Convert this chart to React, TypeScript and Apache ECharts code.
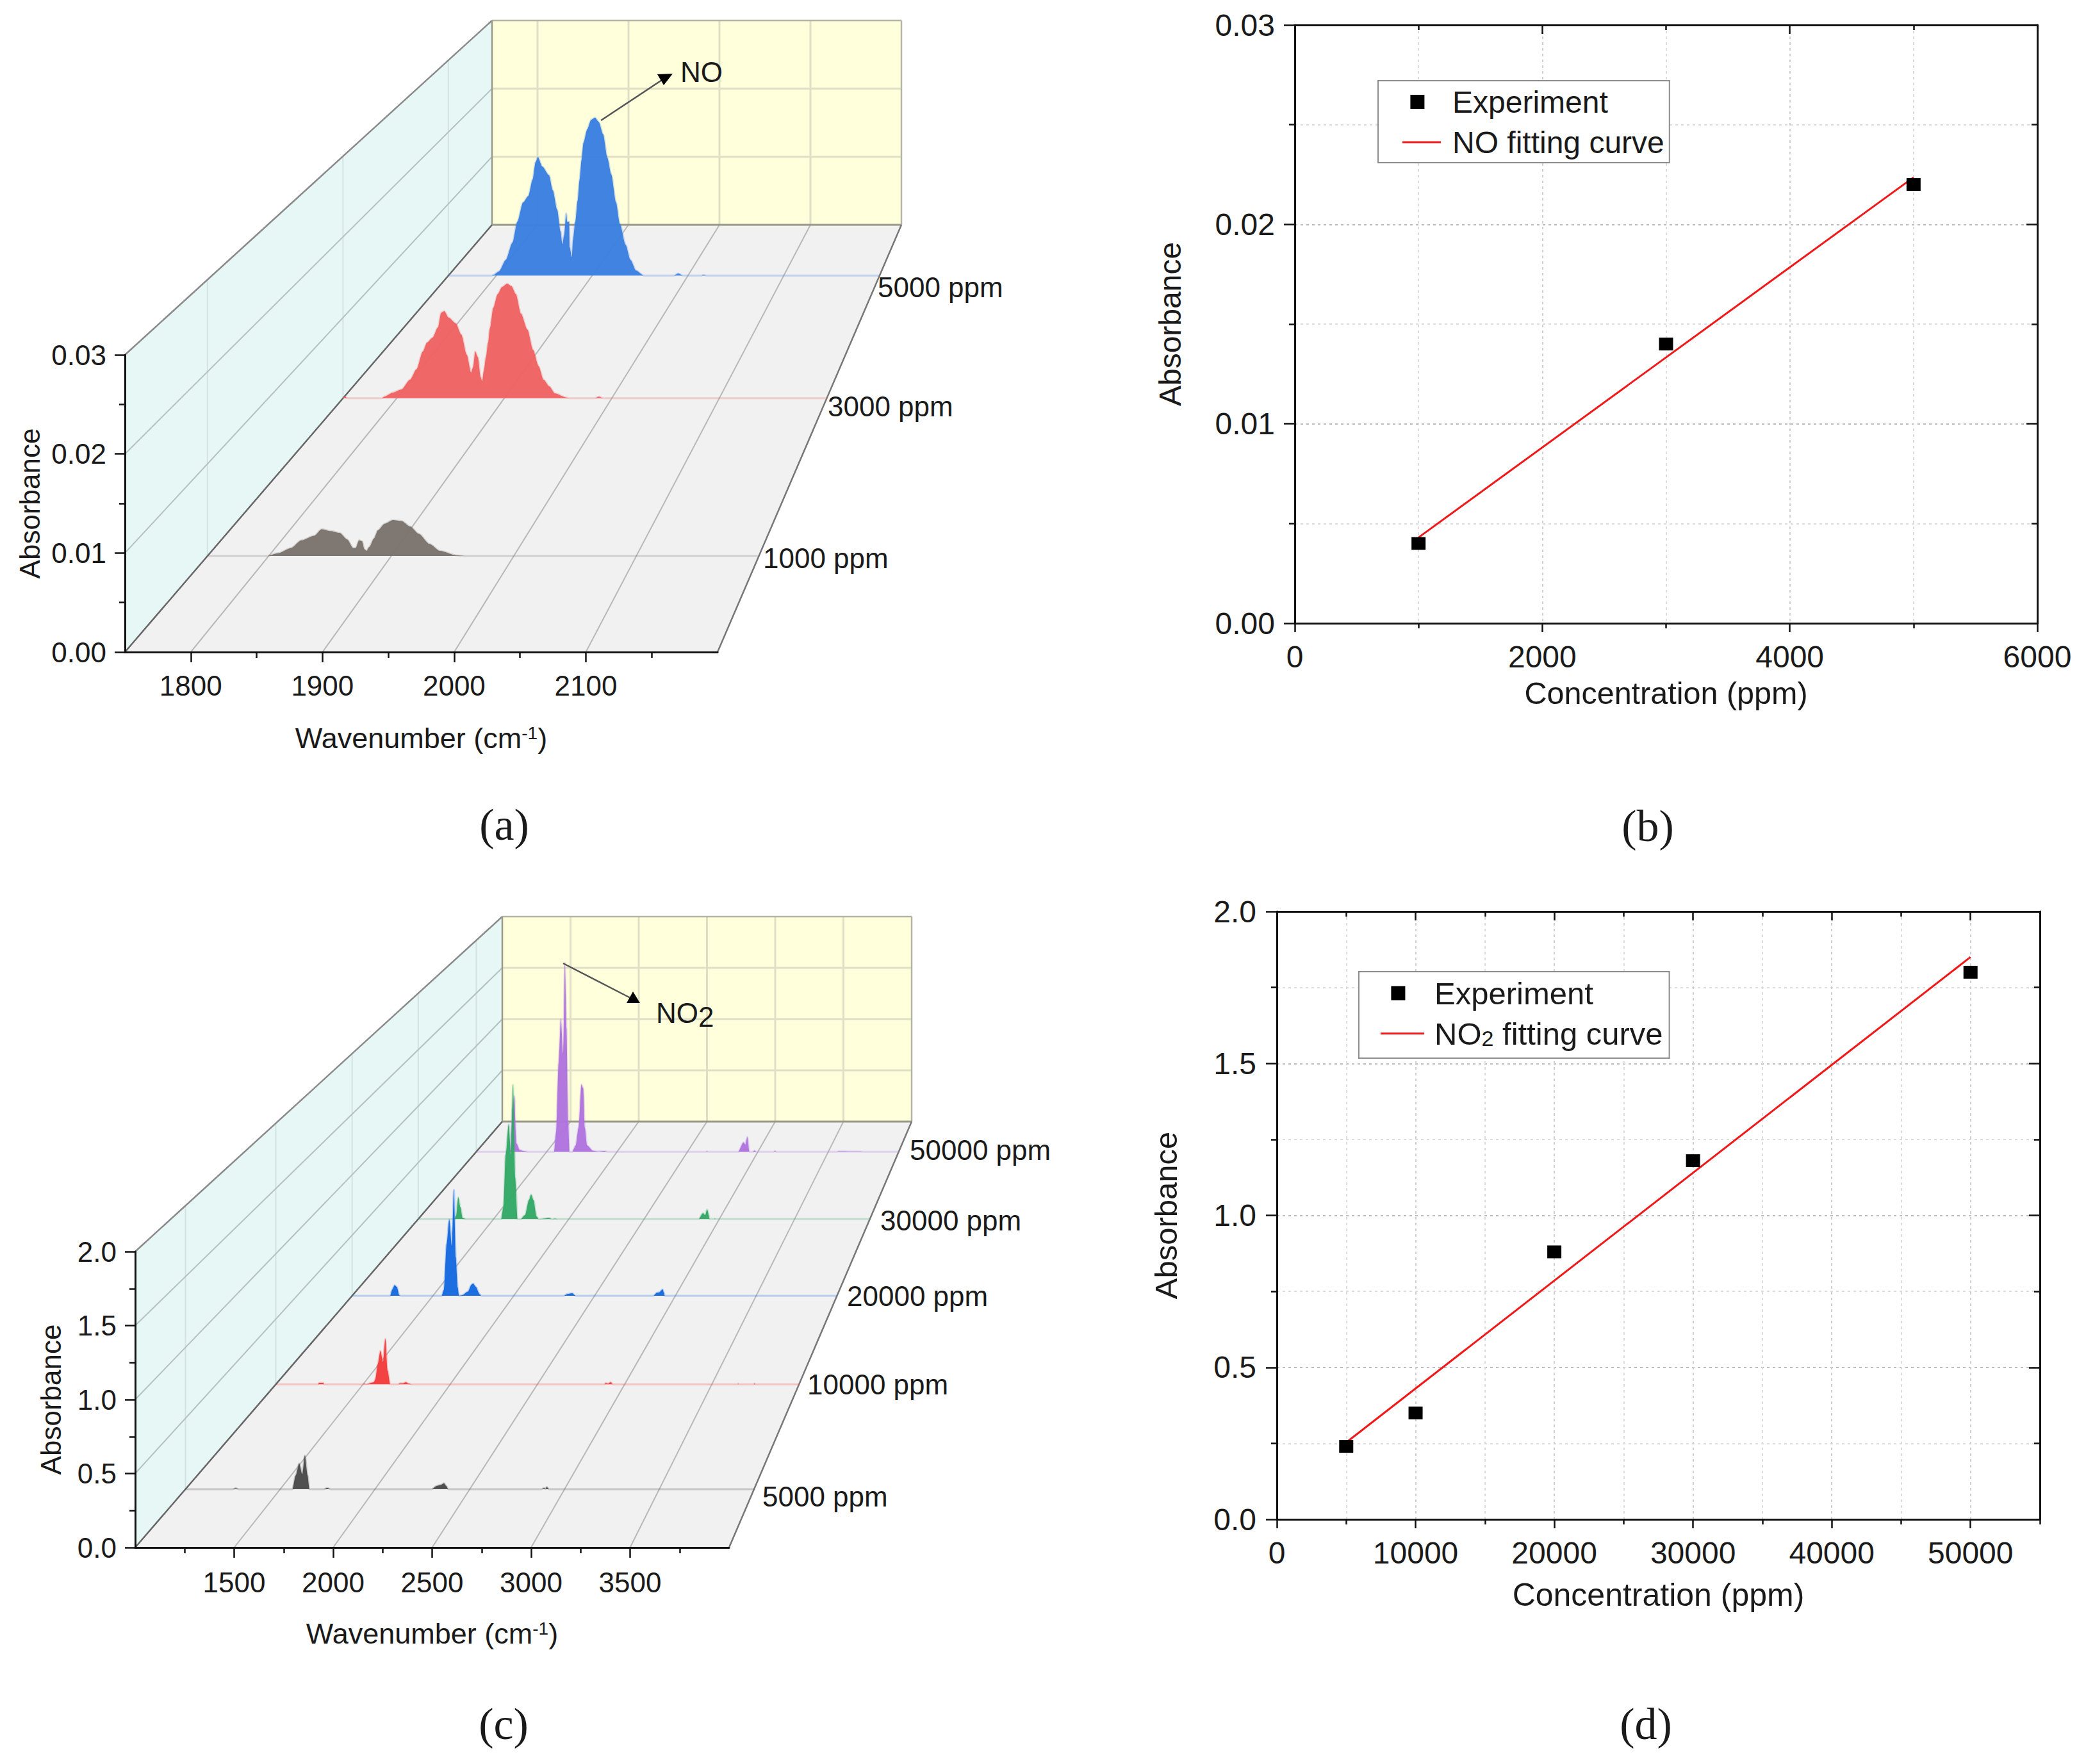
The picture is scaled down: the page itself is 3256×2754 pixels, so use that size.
import React, { useEffect, useRef } from "react";
import * as echarts from "echarts";

// ---------- data ----------
const NO_1000: number[][] = [[1750,0],[1798.4,0],[1807.5,0.0003],[1818.2,0.00086],[1826.7,0.0017],[1837.2,0.0022],[1843.2,0.0029],[1850.9,0.0027],[1857.9,0.0025],[1864,0.0018],[1869,0.00086],[1871,0.00086],[1873.7,0.0017],[1876.1,0.0016],[1878.1,0.00074],[1879.8,0.00056],[1882.1,0.00097],[1885.9,0.0019],[1889.2,0.0028],[1894.6,0.0035],[1901.3,0.0039],[1908.4,0.0038],[1915.4,0.0032],[1922.5,0.0024],[1931.2,0.0013],[1939.6,0.00056],[1953.8,0.00005],[1960,0],[2200,0]];
const NO_3000: number[][] = [[1750,0],[1752,0.0002],[1754,0],[1786,0],[1788.5,0.0002],[1796.3,0.0007],[1804.5,0.0011],[1812.4,0.0023],[1818.4,0.0036],[1824.3,0.0058],[1828.1,0.0069],[1833.3,0.0075],[1838.4,0.0088],[1841.3,0.0106],[1844.2,0.0108],[1848.2,0.01],[1854.8,0.0093],[1860,0.0079],[1865.1,0.0054],[1869.2,0.0032],[1871.1,0.0039],[1873,0.0058],[1875.4,0.0051],[1878.1,0.0026],[1879.5,0.0021],[1881,0.0034],[1883,0.0051],[1885,0.0069],[1886.7,0.0087],[1889.8,0.0112],[1893.9,0.0129],[1898,0.0138],[1902.8,0.0142],[1906.7,0.0139],[1910.8,0.0129],[1915.5,0.0105],[1921.6,0.0085],[1926.8,0.006],[1931.9,0.004],[1936.6,0.0023],[1941.7,0.0015],[1947.3,0.0006],[1957.6,0.0001],[1960.7,0],[1984,0],[1988,0.0002],[1992,0],[2200,0]];
const NO_5000: number[][] = [[1750,0],[1795,0],[1797,0.0001],[1803,0.0006],[1810,0.0022],[1817,0.0046],[1822,0.0075],[1828,0.0102],[1833.5,0.0111],[1838,0.0134],[1841,0.0158],[1843.5,0.0165],[1848,0.0152],[1855,0.014],[1859,0.0119],[1863.6,0.0092],[1867,0.0062],[1869,0.0044],[1871,0.0057],[1873,0.0087],[1874,0.0075],[1876,0.0075],[1876.5,0.0040],[1879,0.0026],[1880,0.0049],[1882.5,0.0075],[1885,0.0105],[1887,0.0134],[1889,0.0161],[1891,0.0185],[1895,0.0204],[1899,0.0217],[1903,0.022],[1907,0.0214],[1911.5,0.0197],[1916,0.0164],[1920,0.0141],[1925,0.0102],[1929,0.0072],[1935,0.0043],[1940,0.0022],[1946,0.0007],[1954,0],[1985,0],[1990,0.0003],[1995,0],[2014,0],[2016,0.0001],[2020,0],[2200,0]];

const NO2_5000: number[][] = [[1000,0],[1250,0],[1265,0.006],[1280,0],[1564,0],[1582,0.098],[1600,0.181],[1616,0.105],[1630,0.237],[1644,0.098],[1654,0],[1730,0],[1748,0.008],[1765,0],[2299,0],[2327,0.023],[2348,0.03],[2364,0.041],[2375,0.023],[2386,0],[2879,0],[2892,0.0075],[2900,0.002],[2906,0.015],[2918,0],[4000,0]];
const NO2_10000: number[][] = [[1000,0],[1243,0],[1248,0.011],[1272,0.011],[1277,0],[1500,0],[1508,0.005],[1516,0],[1562,0.016],[1571,0.04],[1585,0.155],[1600,0.257],[1615,0.172],[1628,0.349],[1641,0.106],[1656,0],[1700,0],[1712,0.008],[1730,0.008],[1746,0.016],[1760,0.006],[1778,0],[2883,0],[2892,0.01],[2905,0.005],[2920,0.016],[2933,0],[3648,0],[3651,0.005],[3655,0],[3740,0],[3745,0.006],[3750,0],[4000,0]];
const NO2_20000: number[][] = [[1000,0],[1235,0],[1249,0.053],[1263,0.087],[1277,0.072],[1291,0.005],[1300,0],[1554,0],[1568,0.05],[1585,0.43],[1601,0.63],[1617,0.41],[1630,0.875],[1641,0.32],[1653,0.07],[1661,0],[1681,0.005],[1717,0.034],[1738,0.091],[1749,0.1],[1766,0.072],[1787,0.015],[1800,0],[2308,0],[2333,0.015],[2361,0.021],[2383,0],[2864,0],[2886,0.025],[2900,0.028],[2921,0.053],[2935,0],[4000,0]];
const NO2_30000: number[][] = [[1000,0],[1240,0],[1252,0.03],[1266,0.193],[1280,0.106],[1295,0.008],[1320,0],[1551,0],[1566,0.106],[1581,0.57],[1601,0.84],[1616,0.57],[1630,1.19],[1644,0.37],[1660,0],[1680,0],[1710,0.035],[1735,0.167],[1750,0.217],[1766,0.167],[1786,0.024],[1800,0],[1870,0.008],[1890,0],[1907,0.004],[1925,0],[2862,0],[2892,0.053],[2906,0.034],[2919,0.085],[2937,0],[2965,0],[2970,0.004],[2975,0],[4000,0]];
const NO2_50000: number[][] = [[1000,0],[1235,0],[1244,0.017],[1257,0.41],[1270,0.527],[1285,0.08],[1309,0.017],[1341,0.006],[1370,0],[1552,0],[1568,0.19],[1585,0.84],[1601,1.255],[1617,0.93],[1630,1.787],[1641,1.17],[1653,0.3],[1662,0],[1682,0],[1706,0.06],[1727,0.23],[1747,0.636],[1760,0.6],[1771,0.23],[1787,0.06],[1828,0.011],[1860,0.003],[1909,0.008],[1935,0],[2630,0],[2638,0.004],[2648,0],[2860,0],[2898,0.089],[2911,0.069],[2925,0.14],[2940,0],[2965,0],[2975,0.012],[2990,0],[3110,0],[3120,0.008],[3135,0],[3560,0],[3575,0.004],[3650,0.003],[3720,0.003],[3760,0],[4000,0]];

const NO_CONC = [1000, 3000, 5000];
const NO_ABS = [0.004, 0.014, 0.022];
const NO_FIT_X = [1000, 5000];
const NO_FIT_Y = [0.0043, 0.02236];
const NO2_CONC = [5000, 10000, 20000, 30000, 50000];
const NO2_ABS = [0.24, 0.35, 0.88, 1.18, 1.8];
const NO2_FIT_X = [5000, 50000];
const NO2_FIT_Y = [0.253, 1.85];

const A_X_MAJOR = [1800, 1900, 2000, 2100];
const A_X_MINOR = [1850, 1950, 2050, 2150];
const A_Y_MAJOR = [0, 0.01, 0.02, 0.03];
const A_Y_MINOR = [0.005, 0.015, 0.025];
const C_X_MAJOR = [1500, 2000, 2500, 3000, 3500];
const C_X_MINOR = [1250, 1750, 2250, 2750, 3250, 3750];
const C_Y_MAJOR = [0, 0.5, 1, 1.5, 2];
const C_Y_MINOR = [0.25, 0.75, 1.25, 1.75];
const B_X_MAJOR = [0, 2000, 4000, 6000];
const B_X_MINOR = [1000, 3000, 5000];
const D_X_MAJOR = [0, 10000, 20000, 30000, 40000, 50000];
const D_X_MINOR = [5000, 15000, 25000, 35000, 45000, 55000];

const A_LABELS = ["1000 ppm", "3000 ppm", "5000 ppm"];
const C_LABELS = ["5000 ppm", "10000 ppm", "20000 ppm", "30000 ppm", "50000 ppm"];

// ---------- layout ----------
const SANS = "Liberation Sans";
const SERIF = "Liberation Serif";
const W = 3256;
const H = 2754;
const lerp = (a: number, b: number, t: number) => a + (b - a) * t;

type Box = { l: number; r: number; b: number; top: number };
type Panel = { front: Box; back: Box; xMin: number; xMax: number; yMax: number };
const plane = (p: Panel, t: number): Box => ({
  l: lerp(p.front.l, p.back.l, t),
  r: lerp(p.front.r, p.back.r, t),
  b: lerp(p.front.b, p.back.b, t),
  top: lerp(p.front.top, p.back.top, t),
});

const PANEL_A: Panel = {
  front: { l: 195, r: 1120, b: 1018, top: 554 },
  back: { l: 768, r: 1407, b: 351, top: 32 },
  xMin: 1750, xMax: 2200, yMax: 0.03,
};
const PANEL_C: Panel = {
  front: { l: 211, r: 1138, b: 2416, top: 1954 },
  back: { l: 784, r: 1423, b: 1751, top: 1431 },
  xMin: 1000, xMax: 4000, yMax: 2,
};
const A_DEPTH = [0.2248, 0.594, 0.881];
const C_DEPTH = [0.137, 0.383, 0.591, 0.771, 0.929];
const A_COLORS = ["#7a736d", "#ee6262", "#3a7fe0"];
const C_COLORS = ["#4a4a4a", "#f23c3c", "#1569e0", "#33a866", "#b074de"];
const A_LABEL_POS = [[1191, 871], [1292, 634], [1370, 448]];
const C_LABEL_POS = [[1190, 2336], [1260, 2161], [1322, 2023], [1374, 1905], [1420, 1795]];

const grids: any[] = [];
const xAxes: any[] = [];
const yAxes: any[] = [];
const series: any[] = [];
const gfx: any[] = [];

const seg = (x1: number, y1: number, x2: number, y2: number, stroke: string, lineWidth: number, z = 1) => {
  gfx.push({ type: "line", z, silent: true, shape: { x1, y1, x2, y2 }, style: { stroke, lineWidth } });
};
const poly = (points: number[][], fill: string, z = 1) => {
  gfx.push({ type: "polygon", z, silent: true, shape: { points }, style: { fill } });
};
const label = (x: number, y: number, text: string, size = 44, family = SANS, align = "left", rich?: any) => {
  gfx.push({
    type: "text", x, y, z: 20, silent: true,
    style: { text, fontFamily: family, fontSize: size, fill: "#1a1a1a", align, verticalAlign: "middle", rich },
  });
};

const addAxis = (dim: "x" | "y", gridIndex: number, o: any) => {
  const list = dim === "x" ? xAxes : yAxes;
  list.push({ type: "value", gridIndex, ...o });
  return list.length - 1;
};

const tickAxes = (dim: "x" | "y", gi: number, position: string, min: number, max: number,
  major: number[], minor: number[], o: {
    inside: boolean; labels?: boolean; fmt?: (v: number) => string; margin?: number; len: number;
    name?: string; nameGap?: number; rich?: any; split?: boolean; interval?: number; minorInterval?: number; majorColor?: string;
    labelSize?: number; nameSize?: number;
  }) => {
  const base = { position, min, max, axisLine: { onZero: false, show: true, lineStyle: { color: "#111", width: 3 } }, z: 10 };
  const minorIdx = addAxis(dim, gi, {
    position, min, max, z: 10,
    interval: o.minorInterval,
    axisLine: { show: false, onZero: false },
    axisTick: { show: true, inside: o.inside, length: Math.round(o.len * 0.55), customValues: minor, lineStyle: { color: "#111", width: 2.5 } },
    axisLabel: { show: false },
    splitLine: o.split ? { show: true, lineStyle: { color: "#dcdcdc", width: 2, type: [4, 5] } } : { show: false },
  });
  const majorIdx = addAxis(dim, gi, {
    ...base,
    interval: o.interval,
    axisTick: { show: true, inside: o.inside, length: o.len, customValues: major, lineStyle: { color: "#111", width: 2.5 } },
    axisLabel: {
      show: !!o.labels, customValues: major, margin: o.margin ?? 30, fontFamily: SANS,
      fontSize: o.labelSize ?? 48, color: "#1a1a1a", formatter: o.fmt,
    },
    splitLine: o.split ? { show: true, lineStyle: { color: o.majorColor ?? "#cfcfcf", width: 2, type: [4, 5] } } : { show: false },
    name: o.name, nameLocation: "middle", nameGap: o.nameGap,
    nameTextStyle: { fontFamily: SANS, fontSize: o.nameSize ?? 48, color: "#1a1a1a", rich: o.rich },
  });
  return [minorIdx, majorIdx];
};

const build3D = (p: Panel, depth: number[], colors: string[], spectra: number[][][],
  xMajor: number[], xMinor: number[], yMajor: number[], yMinor: number[],
  yFmt: (v: number) => string, nameGapX: number, nameGapY: number, xMargin: number) => {
  const { front: f, back: k } = p;
  const xAt = (b: Box, v: number) => b.l + ((v - p.xMin) / (p.xMax - p.xMin)) * (b.r - b.l);
  const yAt = (b: Box, v: number) => b.b - (v / p.yMax) * (b.b - b.top);

  poly([[f.l, f.b], [f.l, f.top], [k.l, k.top], [k.l, k.b]], "#e6f7f5");
  poly([[k.l, k.b], [k.l, k.top], [k.r, k.top], [k.r, k.b]], "#ffffdc");
  poly([[f.l, f.b], [k.l, k.b], [k.r, k.b], [f.r, f.b]], "#f1f1f1");

  // walls' grid lines
  depth.forEach((t) => {
    const q = plane(p, t);
    seg(q.l, q.b, q.l, q.top, "#d3e3e1", 2);
  });
  yMajor.forEach((v) => {
    if (v > 0 && v < p.yMax) {
      seg(f.l, yAt(f, v), k.l, yAt(k, v), "#b3c2c0", 2);
      seg(k.l, yAt(k, v), k.r, yAt(k, v), "#dfdfc6", 3);
    }
  });
  xMajor.forEach((v) => {
    seg(xAt(k, v), k.b, xAt(k, v), k.top, "#dfdfc6", 3);
    seg(xAt(f, v), f.b, xAt(k, v), k.b, "#b8b8b8", 2);
  });
  seg(f.l, f.top, k.l, k.top, "#8a8a8a", 2.5);
  seg(k.l, k.top, k.r, k.top, "#b5b5a5", 2.5);
  seg(k.r, k.top, k.r, k.b, "#b5b5a5", 2.5);
  seg(k.l, k.top, k.l, k.b, "#9a9a8a", 2.5);
  seg(k.l, k.b, k.r, k.b, "#9a9a8a", 3);
  seg(f.l, f.b, k.l, k.b, "#666", 2.5);
  seg(f.r, f.b, k.r, k.b, "#777", 2.5);

  // spectra, back to front, each on a front-parallel plane of its own
  depth.map((t, i) => ({ t, i })).reverse().forEach(({ t, i }, n) => {
    const q = plane(p, t);
    const gi = grids.length;
    grids.push({ left: q.l, width: q.r - q.l, top: q.top, height: q.b - q.top, z: 0 });
    const xi = addAxis("x", gi, { show: false, min: p.xMin, max: p.xMax });
    const yi = addAxis("y", gi, { show: false, min: 0, max: p.yMax });
    series.push({
      type: "line", xAxisIndex: xi, yAxisIndex: yi, data: spectra[i], symbol: "none", clip: false,
      silent: true, z: 3 + n, smooth: 0.25, smoothMonotone: "x",
      lineStyle: { color: colors[i], width: 3, opacity: 0.25 },
      areaStyle: { color: colors[i], opacity: 0.97 },
    });
  });

  // axes on the front edge
  const gi = grids.length;
  grids.push({ left: f.l, width: f.r - f.l, top: f.top, height: f.b - f.top, z: 0 });
  tickAxes("x", gi, "bottom", p.xMin, p.xMax, xMajor, xMinor, {
    inside: false, labels: true, fmt: (v) => String(v), margin: xMargin, len: 16, labelSize: 44, nameSize: 45,
    name: "Wavenumber (cm{sup|-1})", nameGap: nameGapX,
    rich: { sup: { fontFamily: SANS, fontSize: 28, verticalAlign: "top", color: "#1a1a1a" } },
  });
  tickAxes("y", gi, "left", 0, p.yMax, yMajor, yMinor, {
    inside: false, labels: true, fmt: yFmt, margin: 29, len: 16, labelSize: 44, nameSize: 44,
    name: "Absorbance", nameGap: nameGapY,
  });
};

build3D(PANEL_A, A_DEPTH, A_COLORS, [NO_1000, NO_3000, NO_5000], A_X_MAJOR, A_X_MINOR, A_Y_MAJOR, A_Y_MINOR,
  (v) => v.toFixed(2), 112, 127, 30);
build3D(PANEL_C, C_DEPTH, C_COLORS, [NO2_5000, NO2_10000, NO2_20000, NO2_30000, NO2_50000], C_X_MAJOR, C_X_MINOR, C_Y_MAJOR, C_Y_MINOR,
  (v) => v.toFixed(1), 112, 110, 32);

A_LABELS.forEach((t, i) => label(A_LABEL_POS[i][0], A_LABEL_POS[i][1], t));
C_LABELS.forEach((t, i) => label(C_LABEL_POS[i][0], C_LABEL_POS[i][1], t));

// annotations
seg(938, 188, 1033, 125, "#555", 2.5, 20);
poly([[1026, 116], [1050, 115], [1036, 133]], "#000", 20);
label(1062, 112, "NO", 44);
seg(879, 1504, 984, 1558, "#555", 2.5, 20);
poly([[978, 1566], [999, 1566], [988, 1548]], "#000", 20);
label(1024, 1581, "NO{s|2}", 44, SANS, "left", { s: { fontFamily: SANS, fontSize: 44, verticalAlign: "bottom", padding: [12, 0, 0, 0], fill: "#1a1a1a" } });

label(787, 1287, "(a)", 70, SERIF, "center");
label(2572, 1289, "(b)", 70, SERIF, "center");
label(786, 2691, "(c)", 70, SERIF, "center");
label(2569, 2691, "(d)", 70, SERIF, "center");

// ---------- 2D plots ----------
const build2D = (box: Box, xMax: number, yMax: number, xMajor: number[], xMinor: number[], yMajor: number[], yMinor: number[],
  xStep: number, yStep: number, yFmt: (v: number) => string, conc: number[], abs: number[], fitX: number[], fitY: number[],
  fitName: string, nameGapX: number, nameGapY: number, xMargin: number, yMargin: number, nameSizeX: number, nameSizeY: number) => {
  const gi = grids.length;
  grids.push({ left: box.l, width: box.r - box.l, top: box.top, height: box.b - box.top, z: 0 });
  const [, xi] = tickAxes("x", gi, "bottom", 0, xMax, xMajor, xMinor, {
    inside: false, labels: true, fmt: (v) => String(v), margin: xMargin, len: 14, split: true,
    interval: xStep * 2, minorInterval: xStep,
    name: "Concentration (ppm)", nameGap: nameGapX, nameSize: nameSizeX,
  });
  const [, yi] = tickAxes("y", gi, "left", 0, yMax, yMajor, yMinor, {
    inside: false, labels: true, fmt: yFmt, margin: yMargin, len: 17, split: true, majorColor: "#bdbdbd",
    interval: yStep * 2, minorInterval: yStep,
    name: "Absorbance", nameGap: nameGapY, nameSize: nameSizeY,
  });
  tickAxes("x", gi, "top", 0, xMax, xMajor, xMinor, { inside: true, len: 14, interval: xStep * 2, minorInterval: xStep });
  tickAxes("y", gi, "right", 0, yMax, yMajor, yMinor, { inside: true, len: 17, interval: yStep * 2, minorInterval: yStep });
  series.push({
    type: "line", name: fitName, xAxisIndex: xi, yAxisIndex: yi, symbol: "none", silent: true, z: 11,
    data: fitX.map((x, i) => [x, fitY[i]]), lineStyle: { color: "#f01818", width: 3 }, itemStyle: { color: "#f01818" },
  });
  series.push({
    type: "scatter", name: "Experiment", xAxisIndex: xi, yAxisIndex: yi, symbol: "rect", symbolSize: [22, 20], silent: true, z: 12,
    data: conc.map((x, i) => [x, abs[i]]), itemStyle: { color: "#000", opacity: 1 },
  });
};

build2D({ l: 2021, r: 3180, top: 39, b: 973 }, 6000, 0.03, B_X_MAJOR, B_X_MINOR, A_Y_MAJOR, A_Y_MINOR, 1000, 0.005,
  (v) => v.toFixed(2), NO_CONC, NO_ABS, NO_FIT_X, NO_FIT_Y, "NO fitting curve", 84, 171, 28, 31, 48.5, 48);
build2D({ l: 1993, r: 3184, top: 1423, b: 2372 }, 55000, 2, D_X_MAJOR, D_X_MINOR, C_Y_MAJOR, C_Y_MINOR, 5000, 0.25,
  (v) => v.toFixed(1), NO2_CONC, NO2_ABS, NO2_FIT_X, NO2_FIT_Y, "NO2 fitting curve", 93, 149, 28, 32, 50, 49);

const SQUARE = "path://M0,0H10V10H0Z M16,0";
const legendBase = {
  orient: "vertical", selectedMode: false, borderColor: "#8c8c8c", borderWidth: 2, backgroundColor: "#fff", z: 15,
  textStyle: { fontFamily: SANS, fontSize: 48, color: "#1a1a1a" },
};
const legends = [
  {
    ...legendBase, left: 2151, top: 126, padding: [9, 8, 8, 38], itemGap: 15, itemWidth: 60, itemHeight: 22,
    textStyle: { ...legendBase.textStyle, padding: [0, 0, 0, 13] },
    data: [{ name: "Experiment", icon: SQUARE }, { name: "NO fitting curve", icon: "path://M0,0H60V3H0Z" }],
  },
  {
    ...legendBase, left: 2121, top: 1517, padding: [9, 10, 14, 34], itemGap: 14, itemWidth: 68, itemHeight: 22,
    textStyle: {
      ...legendBase.textStyle, fontSize: 49, padding: [0, 0, 0, 11],
      rich: { sub: { fontFamily: SANS, fontSize: 34, verticalAlign: "bottom", color: "#1a1a1a", padding: [14, 0, 0, 0] } },
    },
    formatter: (n: string) => (n === "NO2 fitting curve" ? "NO{sub|2} fitting curve" : n),
    data: [{ name: "Experiment", icon: SQUARE }, { name: "NO2 fitting curve", icon: "path://M0,0H68V3H0Z" }],
  },
];

export default function App() {
  const ref = useRef<HTMLDivElement>(null);
  useEffect(() => {
    document.body.style.margin = "0";
    document.body.style.background = "#fff";
    const chart = echarts.init(ref.current!, undefined, { renderer: "svg", width: W, height: H });
    chart.setOption({
      animation: false,
      backgroundColor: "#fff",
      grid: grids,
      xAxis: xAxes,
      yAxis: yAxes,
      series,
      legend: legends,
      graphic: { elements: gfx },
    });
    return () => chart.dispose();
  }, []);
  return <div ref={ref} style={{ width: W, height: H }} />;
}
